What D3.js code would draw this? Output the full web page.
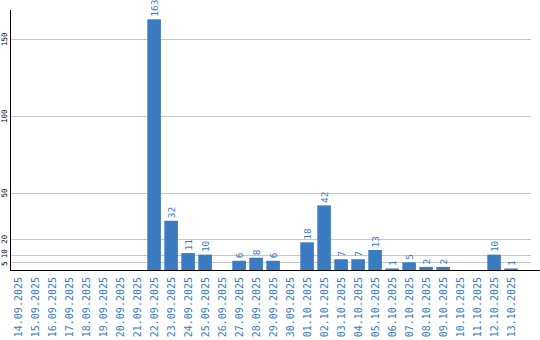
<!DOCTYPE html>
<html>
<head>
<meta charset="utf-8">
<script src="https://cdn.jsdelivr.net/npm/d3@7"></script>
<style>
  body { margin: 0; background: #fff; }
  svg { display: block; }
  text { font-family: "DejaVu Sans Mono", monospace; }
</style>
</head>
<body>
<svg id="chart" width="540" height="340"></svg>
<script>
// daily counts, 14.09.2025 - 13.10.2025
const dates = [
  "14.09.2025", "15.09.2025", "16.09.2025", "17.09.2025", "18.09.2025",
  "19.09.2025", "20.09.2025", "21.09.2025", "22.09.2025", "23.09.2025",
  "24.09.2025", "25.09.2025", "26.09.2025", "27.09.2025", "28.09.2025",
  "29.09.2025", "30.09.2025", "01.10.2025", "02.10.2025", "03.10.2025",
  "04.10.2025", "05.10.2025", "06.10.2025", "07.10.2025", "08.10.2025",
  "09.10.2025", "10.10.2025", "11.10.2025", "12.10.2025", "13.10.2025"
];
const counts = [
  0, 0, 0, 0, 0, 0, 0, 0, 163, 32,
  11, 10, 0, 6, 8, 6, 0, 18, 42, 7,
  7, 13, 1, 5, 2, 2, 0, 0, 10, 1
];
const yTicks = [5, 10, 20, 50, 100, 150];

const BAR = "#3a7bc2";
const LEFT = 11, BASE = 270, TOP = 10;

const svg = d3.select("#chart");

const x = d3.scaleBand()
  .domain(dates)
  .range([LEFT + 0.3, LEFT + 0.3 + 30 * 17])
  .paddingInner(0.2)
  .paddingOuter(0.1)
  .align(0);

const y = d3.scaleLinear()
  .domain([0, 150])
  .range([BASE, 39.3]);

// grid
svg.append("g")
  .selectAll("line")
  .data(yTicks)
  .join("line")
  .attr("x1", LEFT)
  .attr("x2", 531)
  .attr("y1", d => Math.round(y(d)) + 0.5)
  .attr("y2", d => Math.round(y(d)) + 0.5)
  .attr("stroke", "#c8c8c8")
  .attr("stroke-width", 1);

// y tick labels, lowest one pushed down a bit so it clears "10"
let labelY = yTicks.map(d => y(d));
for (let i = 0; i < labelY.length - 1; i++) {
  if (labelY[i] - labelY[i + 1] < 10) {
    labelY[i] += 1.5;
    labelY[i + 1] -= 0.8;
  }
}
svg.append("g")
  .selectAll("text")
  .data(yTicks)
  .join("text")
  .attr("transform", (d, i) => "translate(7," + labelY[i] + ") rotate(-90)")
  .attr("text-anchor", "middle")
  .attr("font-size", 7.5)
  .attr("fill", "#000")
  .text(d => d);

// bars
svg.append("g")
  .selectAll("rect")
  .data(counts)
  .join("rect")
  .attr("x", (d, i) => x(dates[i]))
  .attr("y", d => y(d))
  .attr("width", x.bandwidth())
  .attr("height", d => BASE - y(d))
  .attr("fill", BAR);

// value labels
svg.append("g")
  .selectAll("text")
  .data(counts.map((v, i) => ({v: v, d: dates[i]})).filter(o => o.v > 0))
  .join("text")
  .attr("transform", o => "translate(" + (x(o.d) + x.bandwidth() / 2 + 3.5) + "," + (y(o.v) - 2.5) + ") rotate(-90)")
  .attr("font-size", 9.5)
  .attr("fill", BAR)
  .text(o => o.v);

// axes lines
svg.append("line")
  .attr("x1", LEFT - 0.5).attr("x2", LEFT - 0.5)
  .attr("y1", TOP).attr("y2", BASE + 1)
  .attr("stroke", "#000");
svg.append("line")
  .attr("x1", LEFT - 1).attr("x2", 540)
  .attr("y1", BASE + 0.5).attr("y2", BASE + 0.5)
  .attr("stroke", "#000");

// x labels
svg.append("g")
  .selectAll("text")
  .data(dates)
  .join("text")
  .attr("transform", d => "translate(" + (x(d) + x.bandwidth() / 2 + 3.5) + ",277) rotate(-90)")
  .attr("text-anchor", "end")
  .attr("font-size", 10)
  .attr("fill", BAR)
  .text(d => d);
</script>
</body>
</html>
